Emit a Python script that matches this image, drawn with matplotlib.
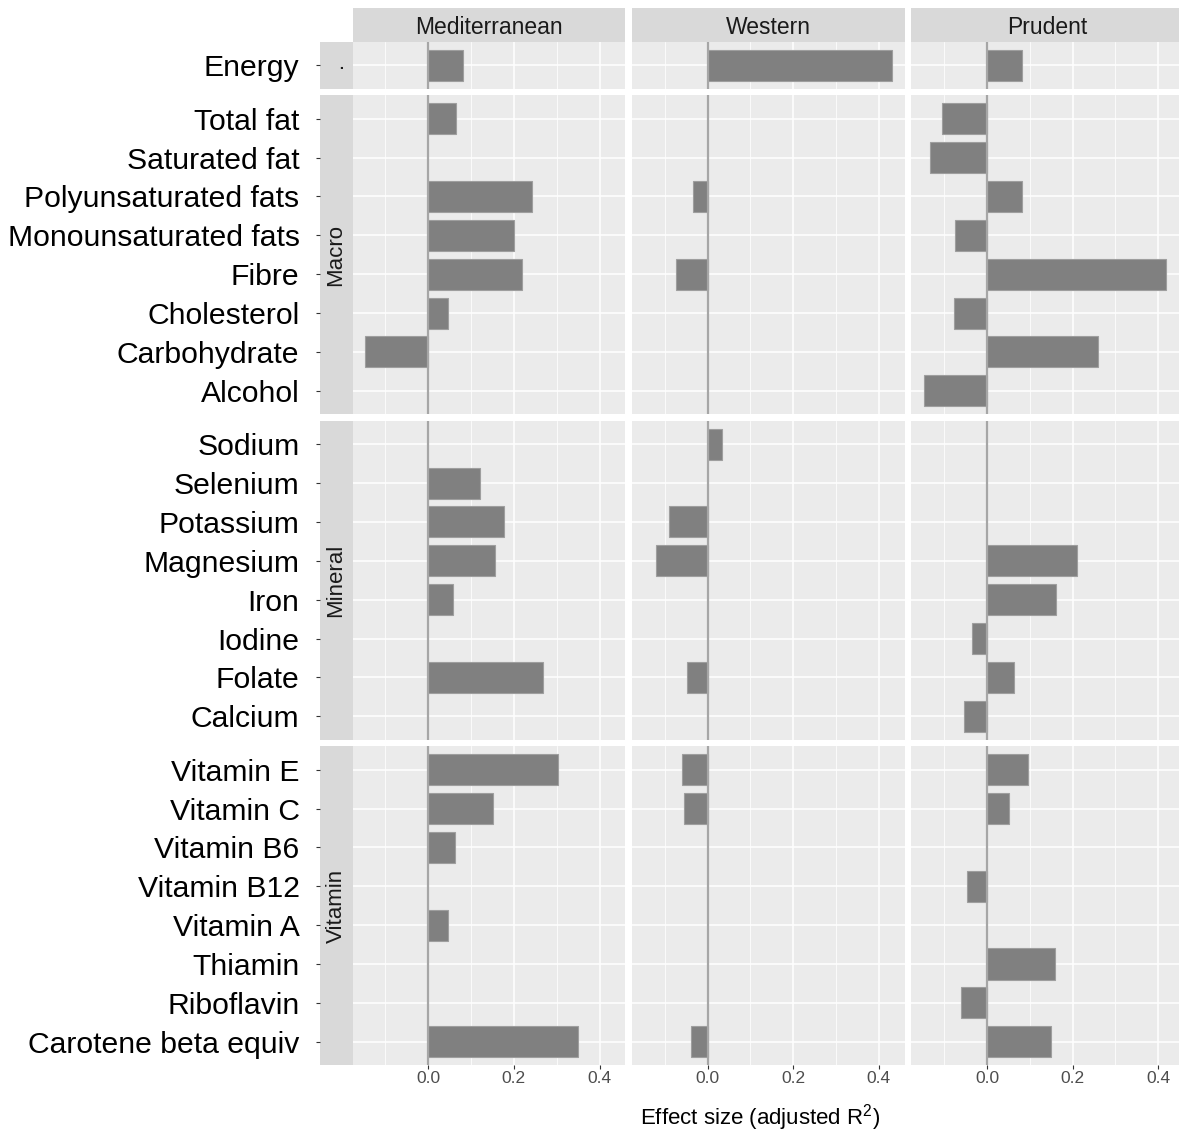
import numpy as np
import matplotlib
matplotlib.use('Agg')
import matplotlib.pyplot as plt
from matplotlib.ticker import MultipleLocator

plt.rcParams['font.family'] = ['Liberation Sans', 'DejaVu Sans']
plt.rcParams['mathtext.default'] = 'regular'

# data
patterns = ['Mediterranean', 'Western', 'Prudent']
groups = ['.', 'Macro', 'Mineral', 'Vitamin']

energy_items = ['Energy']
macro_items = ['Total fat', 'Saturated fat', 'Polyunsaturated fats', 'Monounsaturated fats',
               'Fibre', 'Cholesterol', 'Carbohydrate', 'Alcohol']
mineral_items = ['Sodium', 'Selenium', 'Potassium', 'Magnesium', 'Iron', 'Iodine',
                 'Folate', 'Calcium']
vitamin_items = ['Vitamin E', 'Vitamin C', 'Vitamin B6', 'Vitamin B12', 'Vitamin A',
                 'Thiamin', 'Riboflavin', 'Carotene beta equiv']

nan = np.nan
med_energy = [0.080]
med_macro = [0.065, nan, 0.243, 0.201, 0.218, 0.047, -0.148, nan]
med_mineral = [nan, 0.121, 0.178, 0.157, 0.058, nan, 0.267, nan]
med_vitamin = [0.303, 0.152, 0.062, nan, 0.045, nan, nan, 0.349]

west_energy = [0.431]
west_macro = [nan, nan, -0.035, nan, -0.074, nan, nan, nan]
west_mineral = [0.033, nan, -0.091, -0.120, nan, nan, -0.049, nan]
west_vitamin = [-0.060, -0.055, nan, nan, nan, nan, nan, -0.039]

prud_energy = [0.082]
prud_macro = [-0.105, -0.133, 0.082, -0.074, 0.417, -0.076, 0.259, -0.146]
prud_mineral = [nan, nan, nan, 0.210, 0.162, -0.035, 0.063, -0.054]
prud_vitamin = [0.096, 0.051, nan, -0.047, nan, 0.159, -0.061, 0.150]

items = [energy_items, macro_items, mineral_items, vitamin_items]
values = {
    'Mediterranean': [med_energy, med_macro, med_mineral, med_vitamin],
    'Western': [west_energy, west_macro, west_mineral, west_vitamin],
    'Prudent': [prud_energy, prud_macro, prud_mineral, prud_vitamin],
}

# shared x scale with ggplot-like 5% expansion
allv = np.concatenate([np.array(v, dtype=float) for p in patterns for v in values[p]])
lo, hi = np.nanmin(allv), np.nanmax(allv)
pad = 0.05 * (hi - lo)
xlim = (lo - pad, hi + pad)

W, H = 1179, 1133
fig = plt.figure(figsize=(W / 100, H / 100), dpi=100)


def px_axes(x, y, w, h):
    return fig.add_axes([x / W, 1 - (y + h) / H, w / W, h / H])


col_left = [352.5, 631.9, 911.2]
col_w = 272.7
top, bottom = 42.0, 1065.0
gap = 6.8
n_units = sum(len(it) + 0.2 for it in items)
unit = (bottom - top - gap * (len(items) - 1)) / n_units

strip_x, strip_w = 319.5, 33.0
panel_bg = '#EBEBEB'
strip_bg = '#D9D9D9'

y0 = top
for r, (grp, its) in enumerate(zip(groups, items)):
    n = len(its)
    h = (n + 0.2) * unit
    ypos = np.arange(n)[::-1]

    # row strip holds the y tick labels
    sax = px_axes(strip_x, y0, strip_w, h)
    sax.set_facecolor(strip_bg)
    sax.set_xlim(0, 1)
    sax.set_ylim(-0.6, n - 0.4)
    sax.set_xticks([])
    sax.set_yticks(ypos)
    sax.set_yticklabels(its, fontsize=21.7, color='black')
    sax.tick_params(axis='y', length=2.9, width=0.8, color='#333333', pad=11.5)
    for s in sax.spines.values():
        s.set_visible(False)
    sax.text(0.5, 0.5, grp, transform=sax.transAxes, rotation=90, ha='center',
             va='center', fontsize=16, color='#1A1A1A')

    for c, pat in enumerate(patterns):
        ax = px_axes(col_left[c], y0, col_w, h)
        ax.set_facecolor(panel_bg)
        vals = np.array(values[pat][r], dtype=float)
        ok = ~np.isnan(vals)
        ax.barh(ypos[ok], vals[ok], height=0.8, color='#808080',
                edgecolor='#9E9E9E', linewidth=0.8, zorder=2)
        ax.axvline(0, color='#A6A6A6', linewidth=1.6, zorder=3)
        ax.set_xlim(*xlim)
        ax.set_ylim(-0.6, n - 0.4)
        ax.xaxis.set_major_locator(MultipleLocator(0.2))
        ax.xaxis.set_minor_locator(MultipleLocator(0.1))
        ax.set_yticks(ypos)
        ax.grid(True, which='major', color='white', linewidth=1.1, zorder=0)
        ax.grid(True, which='minor', axis='x', color='white', linewidth=0.55, zorder=0)
        ax.set_axisbelow(True)
        for s in ax.spines.values():
            s.set_visible(False)
        ax.tick_params(axis='y', left=False, labelleft=False)
        ax.tick_params(axis='x', which='minor', bottom=False)
        if r == len(items) - 1:
            ax.tick_params(axis='x', which='major', length=2.9, width=0.8,
                           color='#333333', labelsize=12.5, labelcolor='#4D4D4D', pad=1.5)
            ax.set_xticks(ax.get_xticks())
            ax.set_xticklabels([f'{t:.1f}' if abs(t) > 1e-9 else '0.0' for t in ax.get_xticks()])
            ax.set_xlim(*xlim)
        else:
            ax.tick_params(axis='x', which='major', bottom=False, labelbottom=False)

        if r == 0:
            cax = px_axes(col_left[c], 8.0, col_w, 33.5)
            cax.set_facecolor(strip_bg)
            cax.set_xticks([])
            cax.set_yticks([])
            for s in cax.spines.values():
                s.set_visible(False)
            cax.text(0.5, 0.5, pat, transform=cax.transAxes, ha='center',
                     va='center_baseline', fontsize=16.5, color='#1A1A1A')

    y0 += h + gap

fig.text(760 / W, 1 - 1118 / H, 'Effect size (adjusted R$^2$)', ha='center',
         va='center', fontsize=16, color='black')

plt.savefig('out.png', dpi=100)
